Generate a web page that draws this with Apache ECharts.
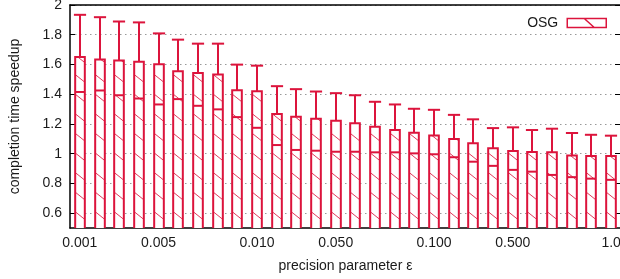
<!DOCTYPE html>
<html>
<head>
<meta charset="utf-8">
<script src="https://cdn.jsdelivr.net/npm/echarts@6/dist/echarts.min.js"></script>
<style>
  html, body { margin: 0; padding: 0; background: #fff; }
  #chart { width: 620px; height: 279px; }
</style>
</head>
<body>
<div id="chart"></div>
<script>
// precision parameter values (one bar each)
const epsilons = [
  '0.001', '0.002', '0.003', '0.004', '0.005', '0.006', '0.007', '0.008', '0.009', '0.010',
  '0.020', '0.030', '0.040', '0.050', '0.060', '0.070', '0.080', '0.090', '0.100',
  '0.200', '0.300', '0.400', '0.500', '0.600', '0.700', '0.800', '0.900', '1.0'
]
const shownLabels = ['0.001', '0.005', '0.010', '0.050', '0.100', '0.500', '1.0']

// bar height (speedup), lower box edge, upper whisker
const speedup = [
  1.65, 1.633, 1.626, 1.619, 1.601, 1.554, 1.543, 1.532, 1.427, 1.420,
  1.266, 1.248, 1.235, 1.221, 1.204, 1.181, 1.159, 1.141, 1.123,
  1.099, 1.070, 1.036, 1.018, 1.011, 1.009, 0.987, 0.985, 0.985
]
const lowerBox = [
  1.415, 1.425, 1.393, 1.371, 1.331, 1.367, 1.322, 1.298, 1.246, 1.174,
  1.058, 1.025, 1.020, 1.013, 1.013, 1.009, 1.009, 1.002, 0.996,
  0.976, 0.946, 0.918, 0.891, 0.879, 0.857, 0.842, 0.832, 0.824
]
const upperWhisker = [
  1.934, 1.918, 1.889, 1.883, 1.809, 1.767, 1.740, 1.740, 1.599, 1.592,
  1.454, 1.434, 1.418, 1.407, 1.393, 1.349, 1.331, 1.302, 1.295,
  1.261, 1.231, 1.172, 1.177, 1.159, 1.168, 1.139, 1.127, 1.121
]
const yTicks = [0.6, 0.8, 1, 1.2, 1.4, 1.6, 1.8, 2]

const Y_MIN = 0.5
const Y_MAX = 2
const RED = '#dc143c'
const FONT = 'Liberation Sans, Arial, sans-serif'

const chart = echarts.init(document.getElementById('chart'), null, { renderer: 'canvas' })

const renderBar = (params, api) => {
  const idx = api.value(0)
  const band = api.size([1, 0])[0]
  const half = band * 0.245
  const capHalf = band * 0.31
  const top = api.coord([idx, api.value(2)])
  const cx = Math.round(top[0])
  const x0 = cx - half
  const x1 = cx + half
  const yTop = top[1]
  const yLow = api.coord([idx, api.value(1)])[1]
  const yHigh = api.coord([idx, api.value(3)])[1]
  const yBase = api.coord([idx, Y_MIN])[1]

  const children = [{
    type: 'rect',
    shape: { x: x0, y: yTop, width: x1 - x0, height: yBase - yTop },
    style: { fill: '#fff' }
  }]

  // "\" hatch lines
  const w = x1 - x0
  const slope = 0.8
  const spacing = 19.6
  for (let k = 0; k < 40; k++) {
    const yl = yBase - 16.3 - k * spacing
    const yr = yl + slope * w
    if (yr <= yTop) break
    let sx = x0, sy = yl, ex = x1, ey = yr
    if (sy < yTop) { sx = x0 + (yTop - yl) / slope; sy = yTop }
    if (ey > yBase) { ex = x0 + (yBase - yl) / slope; ey = yBase }
    children.push({
      type: 'line',
      shape: { x1: sx, y1: sy, x2: ex, y2: ey },
      style: { stroke: RED, lineWidth: 1, opacity: 0.85 }
    })
  }

  children.push({
    type: 'rect',
    shape: { x: x0, y: yTop, width: w, height: yBase - yTop + 3 },
    style: { fill: null, stroke: RED, lineWidth: 2 }
  })
  children.push({
    type: 'line',
    shape: { x1: x0, y1: yLow, x2: x1, y2: yLow },
    style: { stroke: RED, lineWidth: 2 }
  })
  children.push({
    type: 'line',
    shape: { x1: cx, y1: yTop, x2: cx, y2: yHigh },
    style: { stroke: RED, lineWidth: 2 }
  })
  children.push({
    type: 'line',
    shape: { x1: cx - capHalf, y1: yHigh, x2: cx + capHalf, y2: yHigh },
    style: { stroke: RED, lineWidth: 2 }
  })
  return { type: 'group', children }
}

const showAt = (idx, val) => shownLabels.includes(val)

const option = {
  animation: false,
  textStyle: { fontFamily: FONT },
  grid: { left: 70, top: 5, width: 551, height: 223, outerBoundsMode: 'none', containLabel: false },
  legend: {
    right: 8,
    top: 11,
    align: 'right',
    itemWidth: 39,
    itemHeight: 9,
    data: [{ name: 'OSG', icon: 'path://M0 0H39V9H0ZM17 0L27 9' }],
    itemStyle: { color: '#fff', borderColor: RED, borderWidth: 1.5 },
    textStyle: { fontSize: 14, color: '#1a1a1a', fontFamily: FONT, padding: [0, 4, 0, 0] }
  },
  xAxis: [{
    type: 'category',
    data: epsilons,
    position: 'bottom',
    name: 'precision parameter ε',
    nameLocation: 'middle',
    nameGap: 31,
    nameTextStyle: { fontSize: 14, color: '#1a1a1a', fontFamily: FONT },
    axisLine: { lineStyle: { color: '#000', width: 1.5 } },
    axisTick: { inside: true, length: 6, alignWithLabel: true, interval: showAt, lineStyle: { color: '#000' } },
    axisLabel: { interval: showAt, margin: 8, fontSize: 14, color: '#1a1a1a', fontFamily: FONT, hideOverlap: false },
    splitLine: { show: false }
  }, {
    type: 'category',
    data: epsilons,
    position: 'top',
    axisLine: { lineStyle: { color: '#000', width: 1.5 } },
    axisTick: { inside: true, length: 6, alignWithLabel: true, interval: showAt, lineStyle: { color: '#000' } },
    axisLabel: { show: false },
    splitLine: { show: false }
  }],
  yAxis: [{
    type: 'value',
    min: Y_MIN,
    max: Y_MAX,
    position: 'left',
    name: 'completion time speedup',
    nameLocation: 'middle',
    nameGap: 48,
    nameTextStyle: { fontSize: 14, color: '#1a1a1a', fontFamily: FONT },
    axisLine: { show: true, lineStyle: { color: '#000', width: 1.5 } },
    axisTick: { show: true, inside: true, length: 5, customValues: yTicks, lineStyle: { color: '#000' } },
    axisLabel: { margin: 8, fontSize: 14, color: '#1a1a1a', fontFamily: FONT, customValues: yTicks },
    splitLine: { show: true, lineStyle: { color: '#999', type: [1.5, 3.5], width: 1 } }
  }, {
    type: 'value',
    min: Y_MIN,
    max: Y_MAX,
    position: 'right',
    axisLine: { show: true, lineStyle: { color: '#000', width: 1.5 } },
    axisTick: { show: true, inside: true, length: 6, customValues: yTicks, lineStyle: { color: '#000' } },
    axisLabel: { show: false },
    splitLine: { show: false }
  }],
  series: [{
    name: 'OSG',
    type: 'custom',
    xAxisIndex: 0,
    yAxisIndex: 0,
    renderItem: renderBar,
    clip: true,
    itemStyle: { color: RED },
    encode: { x: 0, y: [1, 2, 3] },
    data: epsilons.map((e, i) => [i, lowerBox[i], speedup[i], upperWhisker[i]])
  }]
}

chart.setOption(option)
</script>
</body>
</html>
